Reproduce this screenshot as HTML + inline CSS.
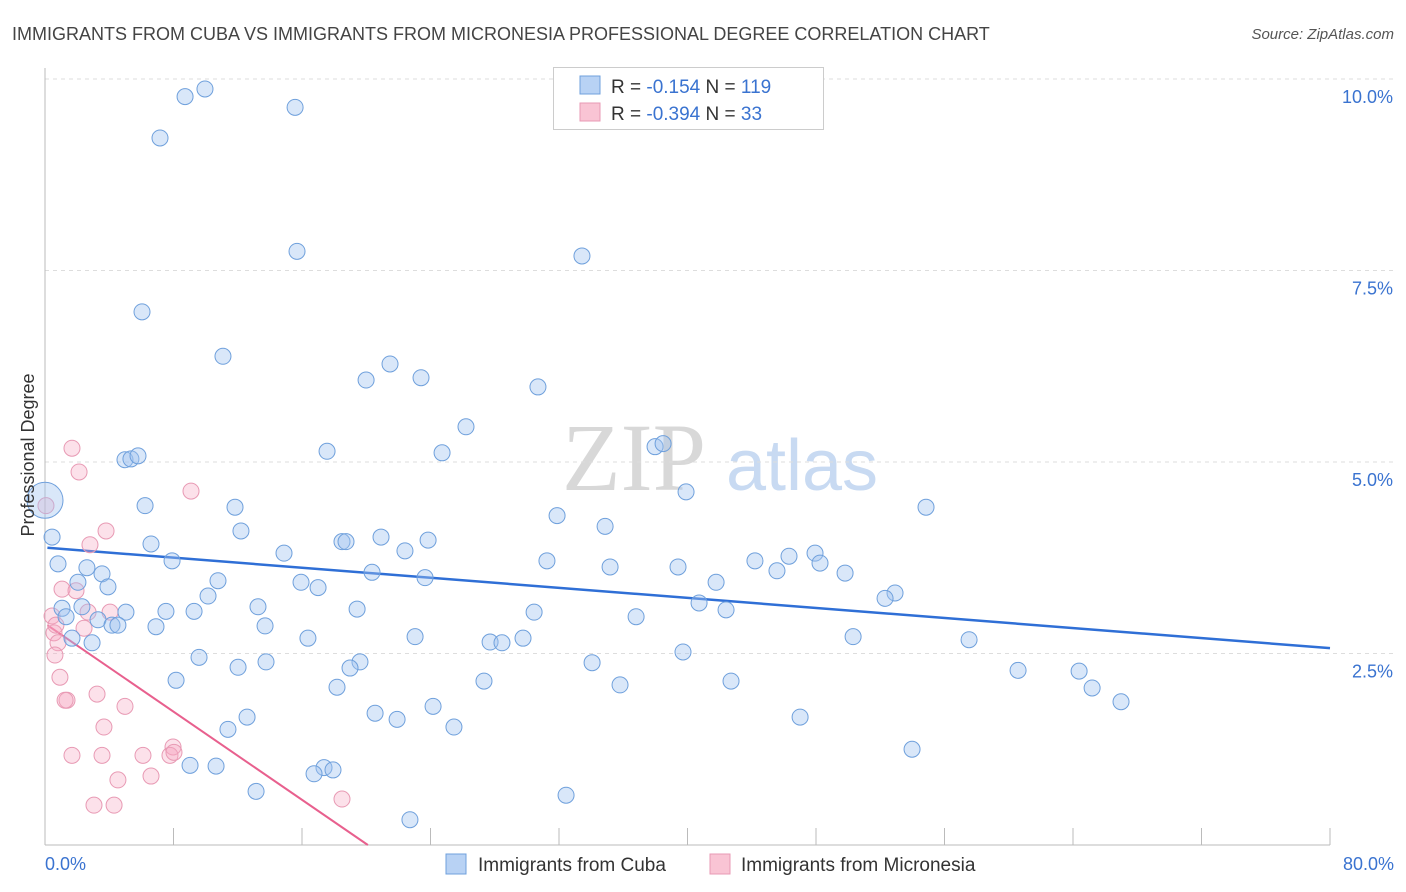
<!DOCTYPE html>
<html><head><meta charset="utf-8"><style>
body{margin:0;background:#fff;font-family:"Liberation Sans",sans-serif;}
svg{display:block}
</style></head><body>
<svg id="chart" width="1406" height="892" xmlns="http://www.w3.org/2000/svg">
<text x="12" y="40" font-size="18" fill="#444">IMMIGRANTS FROM CUBA VS IMMIGRANTS FROM MICRONESIA PROFESSIONAL DEGREE CORRELATION CHART</text>
<text x="1394" y="39" font-size="15" fill="#555" font-style="italic" text-anchor="end">Source: ZipAtlas.com</text>
<g>
<text x="634" y="490" font-size="96" fill="#d8d8d8" font-family="Liberation Serif,serif" text-anchor="middle">ZIP</text>
<text x="802" y="490" font-size="72" fill="#c8daf2" text-anchor="middle">atlas</text>
</g>
<g id="grid"></g><g id="axes"></g><g id="trends"></g><g id="points"></g>
<text transform="translate(34,455) rotate(-90)" font-size="18" fill="#333" text-anchor="middle">Professional Degree</text>
<g>
<rect x="553.5" y="67.5" width="270" height="62" fill="#fff" stroke="#ccc"/>
<rect x="580" y="76" width="20" height="18" fill="#b8d2f4" stroke="#6fa0dc"/>
<rect x="580" y="103" width="20" height="18" fill="#f9c4d4" stroke="#e89ab4"/>
<text x="611" y="93" font-size="19" fill="#333">R = <tspan fill="#3a73d0">-0.154</tspan>   N = <tspan fill="#3a73d0">119</tspan></text>
<text x="611" y="120" font-size="19" fill="#333">R = <tspan fill="#3a73d0">-0.394</tspan>   N =  <tspan fill="#3a73d0">33</tspan></text>
</g>
<g>
<rect x="446" y="854" width="20" height="20" fill="#b8d2f4" stroke="#6fa0dc"/>
<text x="478" y="871" font-size="19" fill="#333">Immigrants from Cuba</text>
<rect x="710" y="854" width="20" height="20" fill="#f9c4d4" stroke="#e89ab4"/>
<text x="741" y="871" font-size="19" fill="#333">Immigrants from Micronesia</text>
</g>
</svg>
<script>
const cubaX=[9.96,8.72,15.57,7.16,15.69,33.43,6.04,11.08,21.48,19.99,23.41,30.69,26.21,17.56,24.72,37.98,38.48,4.98,5.35,5.79,39.91,6.23,11.83,54.85,31.88,34.87,12.20,0.44,6.60,20.92,23.85,18.49,18.74,14.88,22.41,31.25,47.94,46.32,44.20,48.25,7.91,0.81,2.61,3.55,20.36,35.18,39.41,45.57,49.81,15.94,17.00,23.66,41.78,10.77,2.05,3.92,52.92,52.30,10.15,1.06,2.30,5.04,7.53,9.28,13.26,19.43,30.45,42.40,40.72,36.80,1.31,3.30,4.17,4.54,6.91,13.70,16.37,23.04,27.71,28.45,29.76,50.31,57.53,1.68,2.93,9.59,12.02,13.76,19.61,18.99,34.06,39.72,60.58,64.38,8.16,27.33,35.80,42.71,18.18,65.19,66.99,24.16,20.55,21.92,12.58,11.39,25.46,47.01,53.98,9.03,10.65,17.37,17.93,16.75,13.14,32.44,22.72,0.0];
const cubaY=[9.87,9.77,9.63,9.23,7.75,7.69,6.96,6.38,6.28,6.07,6.10,5.98,5.46,5.14,5.12,5.20,5.24,5.03,5.04,5.08,4.61,4.43,4.41,4.41,4.30,4.16,4.10,4.02,3.93,4.02,3.98,3.96,3.96,3.81,3.84,3.71,3.81,3.77,3.71,3.68,3.71,3.67,3.62,3.54,3.56,3.63,3.63,3.58,3.55,3.43,3.36,3.49,3.43,3.45,3.43,3.37,3.29,3.22,3.25,3.09,3.11,3.04,3.05,3.05,3.11,3.08,3.04,3.07,3.16,2.98,2.98,2.94,2.87,2.87,2.85,2.86,2.70,2.72,2.65,2.64,2.70,2.72,2.68,2.70,2.64,2.45,2.32,2.39,2.39,2.31,2.38,2.52,2.28,2.27,2.15,2.14,2.09,2.14,2.06,2.05,1.87,1.81,1.72,1.64,1.67,1.51,1.54,1.67,1.25,1.04,1.03,1.01,0.98,0.93,0.70,0.65,0.33,4.50];
const microX=[1.68,2.12,9.09,0.06,3.80,2.80,1.06,1.93,0.44,4.05,2.68,2.43,0.56,0.81,0.62,0.93,3.24,1.37,1.25,4.98,3.67,1.68,3.55,6.10,7.97,7.78,8.03,4.54,6.60,3.05,4.30,18.49,0.68];
const microY=[5.18,4.87,4.62,4.43,4.10,3.92,3.34,3.32,2.99,3.04,3.04,2.83,2.77,2.64,2.48,2.19,1.97,1.89,1.89,1.81,1.54,1.17,1.17,1.17,1.28,1.17,1.21,0.85,0.90,0.52,0.52,0.60,2.87];
const cubaTrendX=[0.15,80];const cubaTrendY=[3.88,2.57];
const microTrendX=[0.15,20.1];const microTrendY=[2.87,0];
const xTickLabels=["0.0%","80.0%"];
const yTicks=[2.5,5.0,7.5,10.0];
const yTickLabels=["2.5%","5.0%","7.5%","10.0%"];
const NS="http://www.w3.org/2000/svg";
const X=v=>45+v*1285/80;
const Y=v=>845-v*76.6;
function mk(tag,attrs,parent){const e=document.createElementNS(NS,tag);for(const k in attrs)e.setAttribute(k,attrs[k]);parent.appendChild(e);return e;}
const grid=document.getElementById('grid'),axes=document.getElementById('axes'),trends=document.getElementById('trends'),pts=document.getElementById('points');
yTicks.forEach((t,i)=>{
 const l=mk('line',{x1:45,x2:1394,y1:Y(t),y2:Y(t),stroke:'#ddd','stroke-dasharray':'4,4'},grid);
 
 
 const tx=mk('text',{x:1393,y:Y(t)+24,'font-size':18,fill:'#3a73d0','text-anchor':'end'},axes);
 tx.textContent=yTickLabels[i];
 
 
});
const ax=mk('line',{x1:45,x2:1330,y1:845,y2:845,stroke:'#bbb'},axes);


const ay=mk('line',{x1:45,x2:45,y1:68,y2:845,stroke:'#bbb'},axes);


for(let i=0;i<=10;i++){
 const t=mk('line',{x1:X(i*8),x2:X(i*8),y1:828,y2:845,stroke:'#bbb'},axes);
 
 
}
[[0,'start',45],[80,'end',1394]].forEach((d,i)=>{
 const t=mk('text',{x:d[2],y:870,'font-size':18,fill:'#3a73d0','text-anchor':d[1]},axes);
 t.textContent=xTickLabels[i];
 
 
});
function drawPts(xs,ys,fill,stroke,name){
 xs.forEach((x,i)=>{
  const big=(name==='cuba-point'&&i===xs.length-1);
  const c=mk('circle',{cx:X(x),cy:Y(ys[i]),r:big?18:8,fill:fill,stroke:stroke,'stroke-width':1},pts);
  
  
 });
}
drawPts(microX,microY,'rgba(245,170,195,0.35)','#e89ab4','micronesia-point');
drawPts(cubaX,cubaY,'rgba(160,195,240,0.4)','#6fa0dc','cuba-point');
const t1=mk('line',{x1:X(cubaTrendX[0]),y1:Y(cubaTrendY[0]),x2:X(cubaTrendX[1]),y2:Y(cubaTrendY[1]),stroke:'#2f6fd6','stroke-width':2.5},trends);


const t2=mk('line',{x1:X(microTrendX[0]),y1:Y(microTrendY[0]),x2:X(microTrendX[1]),y2:Y(microTrendY[1]),stroke:'#e8608e','stroke-width':2},trends);


</script>
</body></html>
